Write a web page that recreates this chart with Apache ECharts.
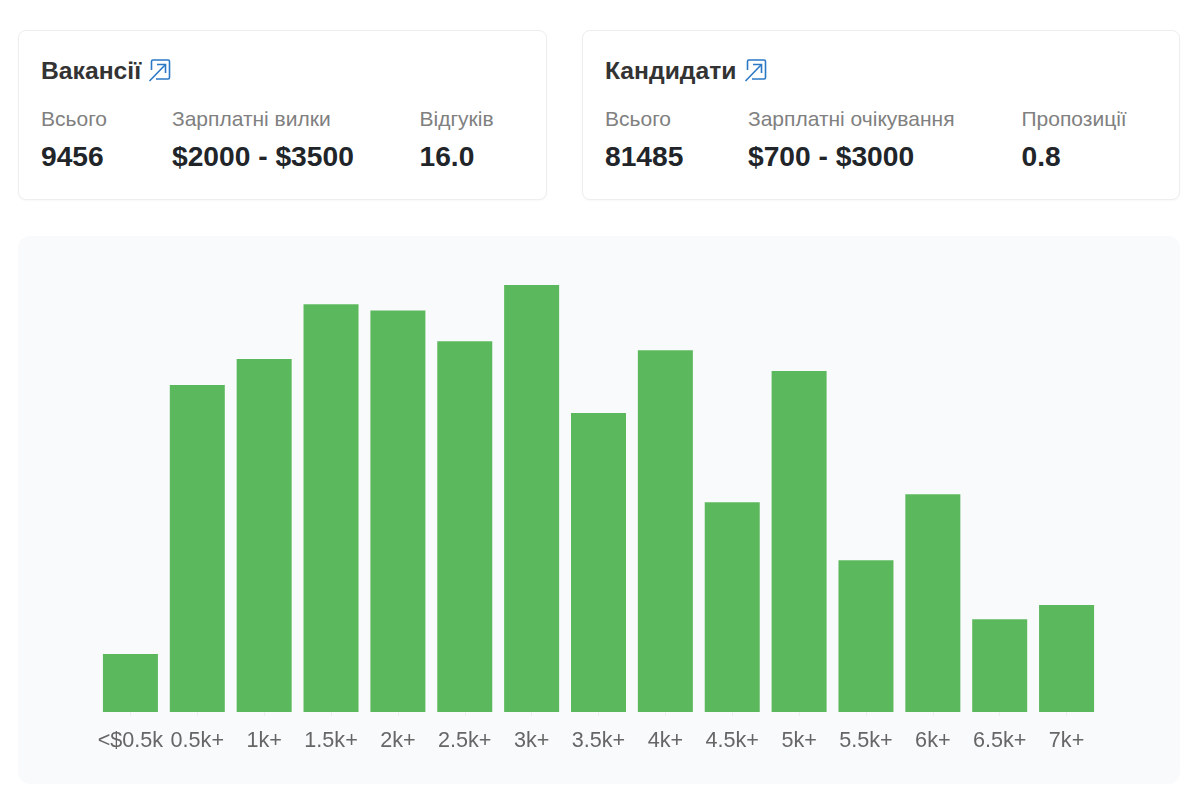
<!DOCTYPE html>
<html>
<head>
<meta charset="utf-8">
<title>Вакансії та кандидати</title>
<script src="https://cdn.jsdelivr.net/npm/echarts@6/dist/echarts.min.js"></script>
<style>
  html, body { margin: 0; padding: 0; background: #fff; }
  body { width: 1200px; height: 800px; position: relative; overflow: hidden; font-family: "Liberation Sans", Arial, sans-serif; }
  .card { position: absolute; top: 30px; height: 170px; box-sizing: border-box; background: #fff; border: 1px solid #eceef0; border-radius: 8px; box-shadow: 0 1px 2px rgba(0,0,0,.03); }
  .card h3 { position: absolute; left: 22px; top: 25px; margin: 0; font-size: 24.7px; line-height: 30px; font-weight: bold; color: #333; white-space: nowrap; }
  .card svg { position: absolute; top: 27px; }
  .lab { position: absolute; top: 75px; font-size: 21px; line-height: 26px; color: #808080; white-space: nowrap; }
  .val { position: absolute; top: 108px; font-size: 28.2px; line-height: 34px; font-weight: bold; color: #212529; white-space: nowrap; }
  #chart { position: absolute; left: 18px; top: 236px; width: 1162px; height: 548px; background: #f9fafc; border-radius: 12px; }
</style>
</head>
<body>
<div id="cards"></div>
<div id="chart"></div>
<script>
var categories = ["<$0.5k", "0.5k+", "1k+", "1.5k+", "2k+", "2.5k+", "3k+", "3.5k+", "4k+", "4.5k+", "5k+", "5.5k+", "6k+", "6.5k+", "7k+"];
var vacancies = [130, 733, 791, 914, 900, 831, 957, 670, 811, 470, 764, 340, 488, 208, 240];

var cardVacancies = {
  left: 18, width: 529, title: "Вакансії", icon: 129,
  cols: [[22, "Всього", "9456"], [153, "Зарплатні вилки", "$2000 - $3500"], [400.5, "Відгуків", "16.0"]]
};
var cardCandidates = {
  left: 582, width: 598, title: "Кандидати", icon: 161,
  cols: [[22, "Всього", "81485"], [165, "Зарплатні очікування", "$700 - $3000"], [438.5, "Пропозиції", "0.8"]]
};

function drawCard(c) {
  var html = '<div class="card" style="left:' + c.left + 'px;width:' + c.width + 'px"><h3>' + c.title + '</h3>';
  html += '<svg style="left:' + c.icon + 'px" width="24" height="24" viewBox="0 0 24 24" fill="none" stroke="#2b78c5" stroke-width="1.6">' +
    '<path d="M3.5 12V3.5Q3.5 2 5 2H20Q21.5 2 21.5 3.5V19.5Q21.5 21 20 21H8"/><path d="M1.5 23L17.5 6.5"/><path d="M9 6.5H17.5V15"/></svg>';
  c.cols.forEach(function (col) {
    html += '<div class="lab" style="left:' + col[0] + 'px">' + col[1] + '</div>';
    html += '<div class="val" style="left:' + col[0] + 'px">' + col[2] + '</div>';
  });
  document.getElementById("cards").insertAdjacentHTML("beforeend", html + "</div>");
}
drawCard(cardVacancies);
drawCard(cardCandidates);

var chart = echarts.init(document.getElementById("chart"));
chart.setOption({
  animation: false,
  grid: { left: 79, width: 1003, top: 49, height: 427 },
  xAxis: {
    type: "category",
    data: categories,
    axisLine: { show: false },
    axisTick: { show: true, alignWithLabel: true, length: 4, lineStyle: { color: "#eceef2" } },
    axisLabel: { interval: 0, color: "#666", fontSize: 21.6, margin: 18, fontFamily: "Liberation Sans" }
  },
  yAxis: { type: "value", min: 0, max: 957, show: false },
  series: [{
    type: "bar",
    data: vacancies,
    barWidth: 55,
    itemStyle: { color: "#5cb85c" }
  }]
});
</script>
</body>
</html>
